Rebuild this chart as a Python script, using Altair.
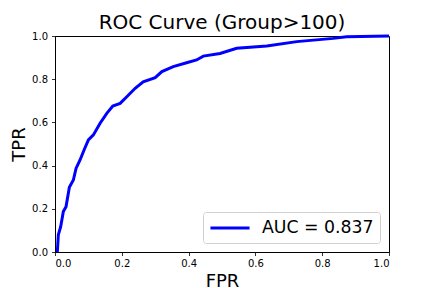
import altair as alt
import pandas as pd

fpr = [0.007, 0.010, 0.017, 0.025, 0.033, 0.043, 0.055, 0.063, 0.075, 0.087,
       0.100, 0.115, 0.135, 0.155, 0.173, 0.195, 0.215, 0.240, 0.264, 0.300,
       0.320, 0.354, 0.394, 0.424, 0.444, 0.494, 0.544, 0.634, 0.724, 0.833,
       0.873, 1.0]
tpr = [0.0, 0.080, 0.117, 0.187, 0.210, 0.300, 0.333, 0.387, 0.426, 0.472,
       0.519, 0.542, 0.596, 0.642, 0.676, 0.688, 0.719, 0.758, 0.788, 0.807,
       0.835, 0.858, 0.876, 0.889, 0.907, 0.919, 0.943, 0.954, 0.974, 0.989,
       0.997, 1.0]
label = "AUC = 0.837"
ticks = [0, 0.2, 0.4, 0.6, 0.8, 1.0]

df = pd.DataFrame({"fpr": fpr, "tpr": tpr, "i": list(range(len(fpr))),
                   "series": [label] * len(fpr)})

font = "DejaVu Sans"

chart = alt.Chart(df).mark_line(strokeWidth=3, clip=False).encode(
    x=alt.X("fpr:Q", scale=alt.Scale(domain=[0, 1], nice=False, zero=False),
            axis=alt.Axis(title="FPR", values=ticks, format=".1f",
                          grid=False, titleFontSize=18, titleFontWeight="normal",
                          titlePadding=4, labelFontSize=10, tickSize=3.5,
                          labelPadding=3, domainColor="black", tickColor="black",
                          labelColor="black", titleColor="black")),
    y=alt.Y("tpr:Q", scale=alt.Scale(domain=[0, 1], nice=False),
            axis=alt.Axis(title="TPR", values=ticks, format=".1f",
                          grid=False, titleFontSize=18, titleFontWeight="normal",
                          titlePadding=3, labelFontSize=10, tickSize=3.5,
                          labelPadding=4, domainColor="black", tickColor="black",
                          labelColor="black", titleColor="black")),
    order="i:Q",
    color=alt.Color("series:N", scale=alt.Scale(range=["#0000ff"]),
                    legend=alt.Legend(title=None, orient="bottom-right", offset=9,
                                      symbolType="M-2.3,0H2.3", symbolSize=289,
                                      symbolStrokeWidth=3, symbolOffset=11,
                                      labelFontSize=17.3,
                                      labelFont=font, strokeColor="#d0d0d0",
                                      fillColor="white", cornerRadius=3,
                                      padding=6, labelColor="black", labelOffset=22,
                                      labelLimit=300)),
).properties(
    width=334, height=216,
    title=alt.TitleParams("ROC Curve (Group>100)", fontSize=20, fontWeight="normal",
                          font=font, color="black", offset=-3),
    autosize=alt.AutoSizeParams(type="none"),
    padding={"left": 47, "top": 28, "right": 30, "bottom": 36},
).configure_view(stroke="black", strokeWidth=1).configure_axis(
    labelFont=font, titleFont=font, domainWidth=0.8, tickWidth=0.8
)

chart.save("out.html", embed_options={"renderer": "svg", "actions": False})
